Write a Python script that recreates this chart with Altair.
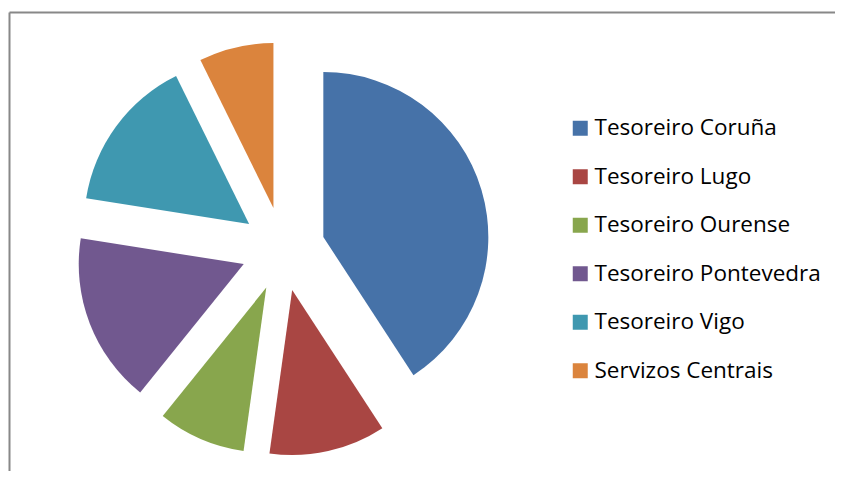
import altair as alt
import pandas as pd

categories = ["Tesoreiro Coruña", "Tesoreiro Lugo", "Tesoreiro Ourense",
              "Tesoreiro Pontevedra", "Tesoreiro Vigo", "Servizos Centrais"]
values = [40.8, 11.4, 8.6, 16.7, 15.2, 7.3]
colors = ["#4672A8", "#A94643", "#88A64D", "#71588F", "#3F98B0", "#DB843D"]

df = pd.DataFrame({"cat": categories, "v": values, "order": list(range(len(categories)))})

W, H = 827, 463
CX, CY, R = 275, 241, 165
EXPLODE = 0.255

pie = (
    alt.Chart(df)
    .transform_window(cum="sum(v)", sort=[alt.SortField("order")])
    .transform_joinaggregate(total="sum(v)")
    .transform_calculate(
        t1="datum.cum / datum.total * 2 * PI",
        t0="(datum.cum - datum.v) / datum.total * 2 * PI",
    )
    .transform_calculate(mid="(datum.t0 + datum.t1) / 2")
    .transform_calculate(ex=f"{EXPLODE} * sin(datum.mid)", ey=f"{EXPLODE} * cos(datum.mid)")
    .mark_arc(radius=R, stroke=None)
    .encode(
        theta=alt.Theta("t0:Q", scale=None),
        theta2="t1:Q",
        x=alt.X("ex:Q", scale=alt.Scale(domain=[-1, 1], range=[CX - R, CX + R]), axis=None),
        y=alt.Y("ey:Q", scale=alt.Scale(domain=[-1, 1], range=[CY + R, CY - R]), axis=None),
        color=alt.Color(
            "cat:N",
            scale=alt.Scale(domain=categories, range=colors),
            sort=categories,
            legend=alt.Legend(
                title=None,
                orient="none",
                legendX=561,
                legendY=109,
                symbolType="square",
                symbolSize=225,
                symbolStrokeWidth=0,
                symbolOpacity=1,
                labelFont="Open Sans",
                labelFontSize=22.5,
                labelColor="#000000",
                labelOffset=3,
                rowPadding=25.5,
                labelLimit=400,
            ),
        ),
    )
)

frame_left = alt.Chart(alt.Data(values=[{"a": 1}])).mark_rule(color="#888888", strokeWidth=2).encode(
    x=alt.value(1.5), y=alt.value(4.5), y2=alt.value(H)
)
frame_top = alt.Chart(alt.Data(values=[{"a": 1}])).mark_rule(color="#888888", strokeWidth=2).encode(
    x=alt.value(1.5), x2=alt.value(W), y=alt.value(4.5)
)

chart = (
    alt.layer(pie, frame_left, frame_top)
    .properties(width=W, height=H, autosize=alt.AutoSizeParams(type="none"), padding=0)
    .configure_view(stroke=None)
)

chart.save("out.html", embed_options={"renderer": "svg", "actions": False})
